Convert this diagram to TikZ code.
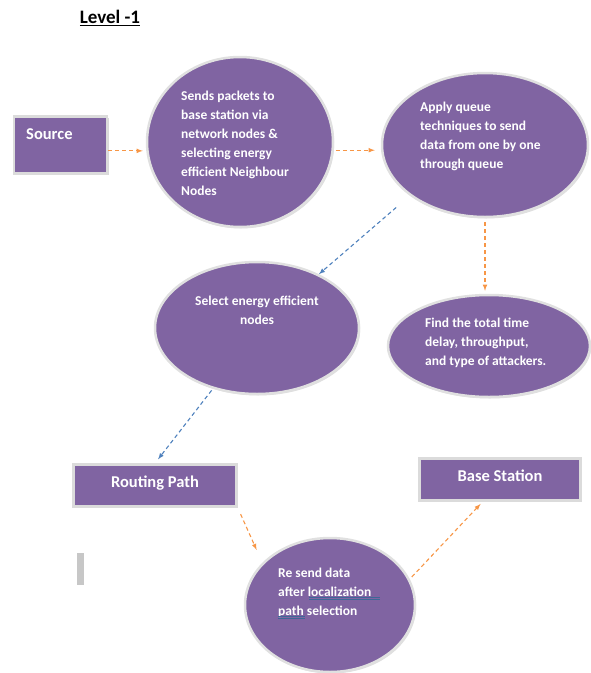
\documentclass[tikz,border=0pt]{standalone}
\usepackage{fontspec}
\setmainfont{Carlito}
\usetikzlibrary{shapes.geometric,shadows,calc}
\definecolor{violet}{HTML}{8064A2}
\definecolor{orangeln}{HTML}{F79646}
\definecolor{blueln}{HTML}{4F81BD}
\tikzset{
  bubble/.style={ellipse, fill=violet, draw=black!12, line width=2.5pt, inner sep=0pt,
    drop shadow={opacity=.25, shadow xshift=1.2pt, shadow yshift=-1.5pt}},
  block/.style={rectangle, fill=violet, draw=black!14, line width=2.5pt, inner sep=0pt,
    drop shadow={opacity=.3, shadow xshift=1.5pt, shadow yshift=-1.8pt}},
  bubtxt/.style={text=white, font=\fontsize{13.5}{19}\selectfont\bfseries, inner sep=0pt},
  boxtxt/.style={text=white, font=\fontsize{16.5}{20}\selectfont\bfseries, inner sep=0pt},
  flow/.style={-latex, dashed, dash pattern=on 4pt off 3pt, line width=1.1pt}
}
\begin{document}
\begin{tikzpicture}[x=1pt,y=-1pt]
\useasboundingbox (0,0) rectangle (591,673);
% title
\node (title) at (110,18) {\fontsize{19}{22}\selectfont\bfseries\underline{Level -1}};
% boxes
\node[block, minimum width=93pt, minimum height=57pt] (src) at (60.5,145) {};
\node[boxtxt, anchor=west] (srctxt) at (26,134) {Source};
\node[block, minimum width=163pt, minimum height=42pt] (rp) at (155,485.5) {};
\node[boxtxt] (rptxt) at (155,483) {Routing Path};
\node[block, minimum width=161pt, minimum height=42pt] (bs) at (500,479.5) {};
\node[boxtxt] (bstxt) at (500,476) {Base Station};
% bubbles
\node[bubble, minimum width=186pt, minimum height=170pt] (e1) at (240,142) {};
\node[bubble, minimum width=206pt, minimum height=144pt] (e2) at (485,145) {};
\node[bubble, minimum width=204pt, minimum height=132pt] (e3) at (257,328) {};
\node[bubble, minimum width=202pt, minimum height=102pt] (e4) at (489,346) {};
\node[bubble, minimum width=170pt, minimum height=134pt] (e5) at (330,605) {};
% bubble texts
\node[bubtxt, anchor=north west, align=left] (e1txt) at (181,90.5)
  {Sends packets to\\base station via\\network nodes \&\\selecting energy\\efficient Neighbour\\Nodes};
\node[bubtxt, anchor=north west, align=left] (e2txt) at (420,101.5)
  {Apply queue\\techniques to send\\data from one by one\\through queue};
\node[bubtxt, anchor=north, align=center] (e3txt) at (257,295.5)
  {Select energy efficient\\nodes};
\node[bubtxt, anchor=north west, align=left] (e4txt) at (425,317.5)
  {Find the total time\\delay, throughput,\\and type of attackers.};
\node[bubtxt, anchor=north west, align=left] (e5txt) at (278,567.5)
  {Re send data\\after localization\\path selection};
% spell-check marks
\foreach \y in {597,599}
\draw[blueln!80!black, line width=.5pt] (309,\y) -- (380,\y);
\foreach \y in {616,618}
\draw[blueln!80!black, line width=.5pt] (278,\y) -- (305,\y);
% stray bar
\fill[black!22] (77,553) rectangle (84,585);
% connectors
\draw[flow, orangeln, shorten >=3pt] (src.-7) -- (src.-7 -| e1.west);
\draw[flow, orangeln, shorten <=2pt, shorten >=6pt] (e1.-5) -- (e1.-5 -| e2.west);
\draw[flow, blueln, shorten <=18pt] (e2.214) -- (e3.41);
\draw[flow, orangeln, shorten <=4pt, shorten >=3pt] (e2.south) -- (e2.south |- e4.north);
\draw[flow, blueln, shorten <=2pt, shorten >=5pt] (e3.234) -- (rp.north);
\draw[flow, orangeln, shorten <=7pt, shorten >=14pt] (rp.south east) -- (e5.148);
\draw[flow, orangeln, shorten <=3pt, shorten >=3pt] (e5.18) -- (bs.232);
\end{tikzpicture}
\end{document}
